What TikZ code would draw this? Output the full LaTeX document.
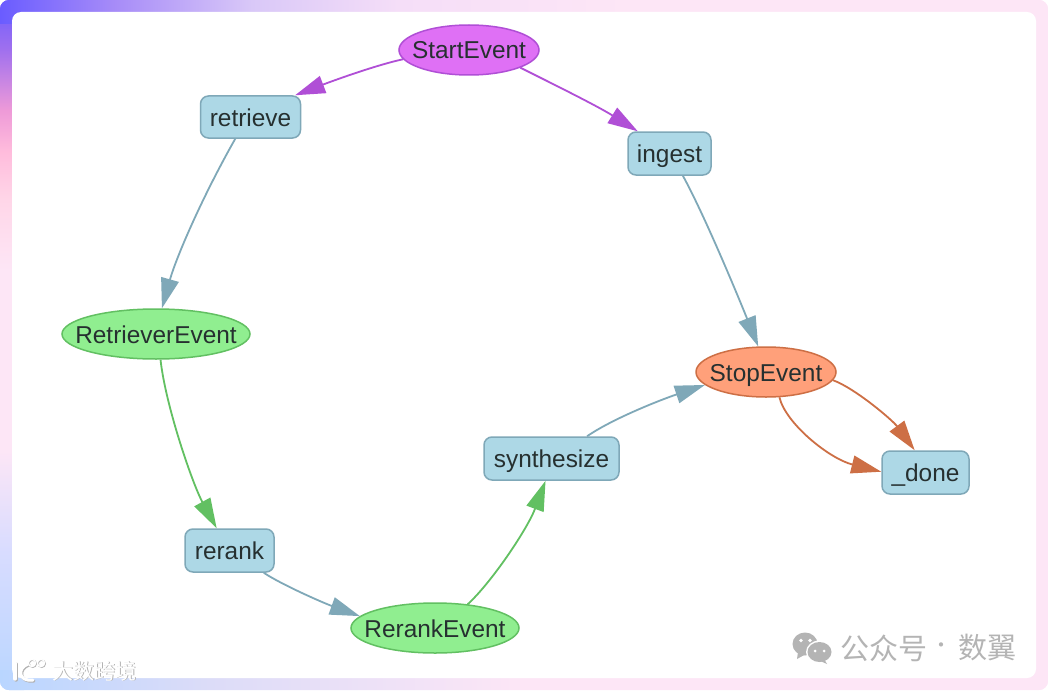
\documentclass[tikz,border=0pt]{standalone}
\usepackage{fontspec}
\setmainfont{Liberation Sans}
\newfontfamily\cjkfont{Noto Sans CJK SC}
\usetikzlibrary{arrows.meta,shapes.geometric}
\definecolor{bgpink}{HTML}{FDE6F6}
\definecolor{cA}{HTML}{6A5CFF}
\definecolor{cB}{HTML}{A070EE}
\definecolor{cC}{HTML}{EE9AD8}
\definecolor{cCC}{HTML}{FFBCDC}
\definecolor{cD}{HTML}{FFD6E8}
\definecolor{cE}{HTML}{D8DCFF}
\definecolor{cF}{HTML}{B9D6FF}
\definecolor{cG}{HTML}{A78CF8}
\definecolor{cH}{HTML}{D9C8F8}
\definecolor{cI}{HTML}{F5DEF8}
\definecolor{cJ}{HTML}{DCDCF8}
\definecolor{taskfill}{HTML}{ADD8E6}
\definecolor{taskline}{HTML}{7FA8B8}
\definecolor{startfill}{HTML}{DF70F5}
\definecolor{startline}{HTML}{B04FD6}
\definecolor{midfill}{HTML}{90EE90}
\definecolor{midline}{HTML}{62C062}
\definecolor{stopfill}{HTML}{FFA07A}
\definecolor{stopline}{HTML}{CD6F45}
\definecolor{inktext}{HTML}{263030}
\definecolor{markgray}{HTML}{B4B4B4}
\pgfdeclareverticalshading{leftstrip}{100bp}{color(0bp)=(cF); color(25bp)=(cF); color(35bp)=(cE); color(42.5bp)=(bgpink); color(55.4bp)=(bgpink); color(60.5bp)=(cD); color(64bp)=(cCC); color(67bp)=(cC); color(71.4bp)=(cB); color(75bp)=(cA); color(100bp)=(cA)}
\pgfdeclarehorizontalshading{topstrip}{100bp}{color(0bp)=(cA); color(25bp)=(cA); color(30.5bp)=(cG); color(37bp)=(cH); color(44bp)=(cI); color(55bp)=(bgpink); color(100bp)=(bgpink)}
\pgfdeclarehorizontalshading{bottomstrip}{100bp}{color(0bp)=(cF); color(25bp)=(cF); color(35bp)=(cJ); color(50bp)=(bgpink); color(100bp)=(bgpink)}
\newcommand{\lbl}[1]{\makebox[0pt][c]{#1}}
\tikzset{
  base/.style={font=\fontsize{24.4}{28}\selectfont, text=inktext, inner sep=0pt, line width=1.5pt, text height=23pt, text depth=5pt},
  task/.style={base, rectangle, rounded corners=8pt, fill=taskfill, draw=taskline},
  evstart/.style={base, ellipse, fill=startfill, draw=startline},
  evmid/.style={base, ellipse, fill=midfill, draw=midline},
  evstop/.style={base, ellipse, fill=stopfill, draw=stopline},
  link/.style={line width=1.8pt, -{Triangle[length=30pt,width=18pt]}},
  linkpurple/.style={link, draw=startline},
  linkblue/.style={link, draw=taskline},
  linkgreen/.style={link, draw=midline},
  linkorange/.style={link, draw=stopline},
  markcn/.style={font=\cjkfont\fontsize{29}{32}\selectfont, text=markgray, inner sep=0pt},
  markws/.style={font=\cjkfont\fontsize{21}{24}\selectfont, inner sep=0pt},
}
\begin{document}
\begin{tikzpicture}[x=1pt,y=-1pt]
\useasboundingbox (0,0) rectangle (1048,690);
% frame
\begin{scope}
  \clip[rounded corners=9pt] (0,0) rectangle (1048,690);
  \fill[bgpink] (0,0) rectangle (1048,690);
  \shade[shading=leftstrip] (0,0) rectangle (24,690);
  \shade[shading=bottomstrip] (0,670) rectangle (1048,690);
  \shade[shading=topstrip] (0,0) rectangle (1048,24);
\end{scope}
\fill[white, rounded corners=9pt] (12,12) rectangle (1036,678);
% nodes
\node[evstart, minimum width=140pt, minimum height=50pt] (start) at (469,50) {\lbl{StartEvent}};
\node[task, minimum width=100pt, minimum height=42pt] (retrieve) at (250.5,117) {\lbl{retrieve}};
\node[task, minimum width=83pt, minimum height=43pt] (ingest) at (669.5,153.5) {\lbl{ingest}};
\node[evmid, minimum width=188pt, minimum height=50pt] (retriever) at (156,334) {\lbl{RetrieverEvent}};
\node[task, minimum width=89pt, minimum height=43pt] (rerank) at (229.5,550.5) {\lbl{rerank}};
\node[evmid, minimum width=168pt, minimum height=50pt] (rerankev) at (435,628) {\lbl{RerankEvent}};
\node[task, minimum width=135pt, minimum height=43pt] (synth) at (551.5,458.5) {\lbl{synthesize}};
\node[evstop, minimum width=140pt, minimum height=50pt] (stop) at (766,372) {\lbl{StopEvent}};
\node[task, minimum width=87pt, minimum height=43pt] (done) at (925.5,472.5) {\lbl{\_done}};
% connectors
\draw[linkpurple] (start.188.7) .. controls +(-28,6) and +(34,-13) .. (retrieve.26.3);
\draw[linkpurple] (start.341.6) .. controls +(38,19) and +(-40,-25) .. (ingest.145);
\draw[linkblue] (retrieve.235.4) .. controls +(-34,60) and +(14,-50) .. (retriever.77);
\draw[linkblue] (ingest.-59.8) .. controls +(22,40) and +(-18,-45) .. (stop.107);
\draw[linkgreen] (retriever.-80.9) .. controls +(5,46) and +(-24,-44) .. (rerank.120);
\draw[linkblue] (rerank.-33.5) .. controls +(18,12) and +(-36,-13) .. (rerankev.171.4);
\draw[linkgreen] (rerankev.36.6) .. controls +(24,-22) and +(-18,48) .. (synth.255.7);
\draw[linkblue] (synth.32.7) .. controls +(26,-18) and +(-42,14) .. (stop.192.8);
\draw[linkorange] (stop.-7) .. controls +(22,8) and +(-22,-30) .. (done.116);
\draw[linkorange] (stop.-62.5) .. controls +(6,26) and +(-52,-13) .. (done.179);
% WeChat mark
\fill[markgray] (805,644) ellipse [x radius=12.5, y radius=11.5];
\fill[markgray] (798,652) -- (797,659) -- (806,654) -- cycle;
\fill[white] (819.5,652) ellipse [x radius=13.5, y radius=11.5];
\fill[markgray] (819.5,652) ellipse [x radius=12, y radius=10];
\fill[markgray] (824,659) -- (827,664) -- (818,660) -- cycle;
\fill[white] (801,640.5) circle (1.8) (810,640.5) circle (1.8) (815,651) circle (1.5) (824,651) circle (1.5);
\node[markcn, anchor=west] (wechat) at (840,648) {公众号};
\node[markcn, anchor=center, font=\cjkfont\fontsize{20}{22}\selectfont] (dot) at (941,648) {·};
\node[markcn, anchor=west] (author) at (958,648) {数翼};
% lower left mark
\begin{scope}[line cap=round]
  \foreach \dx/\col in {1/black!30, 0/white} {
    \draw[\col, line width=3.4pt] (15+\dx,663+\dx) -- (15+\dx,679+\dx);
    \draw[\col, line width=3pt] (28+\dx,664+\dx) .. controls (17+\dx,668+\dx) and (18+\dx,682+\dx) .. (33+\dx,680+\dx);
  }
  \foreach \dx/\col in {0.7/black!30, 0/white} {
    \draw[\col, line width=1.3pt] (32+\dx,663+\dx) circle (3.6);
    \draw[\col, line width=1.3pt] (41+\dx,663+\dx) circle (3.6);
  }
\end{scope}
\node[markws, text=black!30, anchor=west] (wsshadow) at (52.8,671.8) {大数跨境};
\node[markws, text=white, anchor=west] (wstext) at (52,671) {大数跨境};
\end{tikzpicture}
\end{document}
